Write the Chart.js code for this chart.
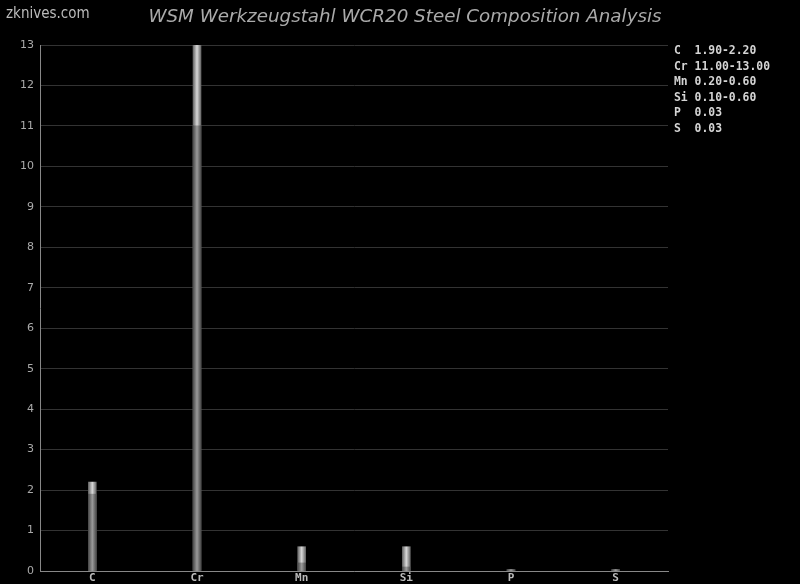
<!DOCTYPE html>
<html>
<head>
<meta charset="utf-8">
<script src="https://cdn.jsdelivr.net/npm/chart.js@4/dist/chart.umd.min.js"></script>
<style>
    html, body { margin: 0; padding: 0; background: #000; }
    #wrap { position: relative; width: 800px; height: 584px; overflow: hidden; }
    #logo { position: absolute; left: 6px; top: 4px; font: 15px "DejaVu Sans Condensed", "DejaVu Sans", sans-serif; color: #bbb; }
    #title { position: absolute; left: 5px; width: 800px; top: 5px; text-align: center; font: italic 18.3px "DejaVu Sans", sans-serif; color: #aaa; }
    #legend { position: absolute; left: 674px; top: 43px; font: bold 11.4px "DejaVu Sans Mono", monospace; color: #d4d4d4; line-height: 15.5px; white-space: pre; }
</style>
</head>
<body>
<div id="wrap">
    <canvas id="chart" width="800" height="584"></canvas>
    <div id="logo">zknives.com</div>
    <div id="title">WSM Werkzeugstahl WCR20 Steel Composition Analysis</div>
    <div id="legend"></div>
</div>
<script>
// Composition ranges (weight %)
const elements = ['C', 'Cr', 'Mn', 'Si', 'P', 'S'];
const minValues = [1.90, 11.00, 0.20, 0.10, 0.03, 0.03];
const maxValues = [2.20, 13.00, 0.60, 0.60, 0.03, 0.03];
const yTicks = [0, 1, 2, 3, 4, 5, 6, 7, 8, 9, 10, 11, 12, 13];

// Legend text on the right
const legendEl = document.querySelector('#legend');
legendEl.textContent = elements.map((el, i) => {
    const range = minValues[i] === maxValues[i]
        ? maxValues[i].toFixed(2)
        : minValues[i].toFixed(2) + '-' + maxValues[i].toFixed(2);
    return el.padEnd(3, ' ') + range;
}).join('\n');

// Cylinder-like shading across each bar
function barShade(edge, mid) {
    return (ctx) => {
        const chart = ctx.chart;
        const x = chart.scales.x;
        if (!chart.chartArea || !x) return mid;
        const px = x.getPixelForValue(ctx.dataIndex);
        const g = chart.ctx.createLinearGradient(px - 4, 0, px + 4, 0);
        g.addColorStop(0, edge);
        g.addColorStop(0.5, mid);
        g.addColorStop(1, edge);
        return g;
    };
}

new Chart(document.querySelector('#chart'), {
    type: 'bar',
    data: {
        labels: elements,
        datasets: [
            {
                label: 'min',
                data: minValues,
                backgroundColor: barShade('#4a4a4a', '#9a9a9a'),
                barThickness: 8,
                grouped: false
            },
            {
                label: 'max',
                data: maxValues,
                backgroundColor: barShade('#666', '#d8d8d8'),
                barThickness: 8,
                grouped: false
            }
        ]
    },
    options: {
        responsive: false,
        animation: false,
        devicePixelRatio: 1,
        layout: { padding: { top: 45, right: 132, left: 0, bottom: 0 } },
        plugins: {
            legend: { display: false },
            title: { display: false },
            tooltip: { enabled: false }
        },
        scales: {
            x: {
                grid: { display: false, drawTicks: false, tickLength: 0 },
                border: { display: true, color: '#888', width: 1 },
                ticks: {
                    color: '#bbb',
                    font: { family: 'DejaVu Sans Mono', size: 11, weight: 'bold' },
                    padding: 1
                },
                afterFit(scale) { scale.height = 13; }
            },
            y: {
                min: 0,
                max: 13,
                afterBuildTicks(scale) { scale.ticks = yTicks.map(v => ({ value: v })); },
                grid: { color: '#333', drawTicks: false },
                border: { display: true, color: '#888', width: 1 },
                ticks: {
                    color: '#aaa',
                    font: { family: 'DejaVu Sans', size: 11 },
                    padding: 6
                },
                afterFit(scale) { scale.width = 40; }
            }
        }
    }
});
</script>
</body>
</html>
